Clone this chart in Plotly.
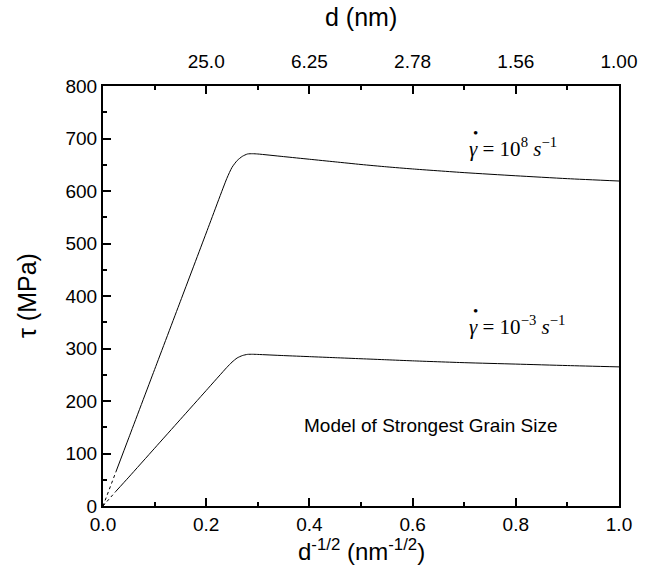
import plotly.graph_objects as go

# d^-1/2 (nm^-1/2)
d_inv = [0, 0.025, 0.05, 0.1, 0.15, 0.2, 0.24, 0.25, 0.26, 0.27, 0.28, 0.29, 0.3,
         0.35, 0.4, 0.45, 0.5, 0.55, 0.6, 0.7, 0.8, 0.9, 1.0]
tau_high = [0, 65, 130, 260, 390, 520, 624, 645, 658, 666, 670.5, 671, 670.5,
            665.5, 660.5, 655.5, 650.5, 646, 642, 635, 629, 623.5, 619]
tau_low = [0, 28, 55, 110, 165, 220, 264, 274, 282, 286.5, 288.8, 289, 288.7,
           286.5, 284.5, 282.5, 280.5, 278.5, 276.5, 273, 270.3, 267.5, 265]

top_tickvals = [0.2, 0.4, 0.6, 0.8, 1.0]
top_ticktext = ["25.0", "6.25", "2.78", "1.56", "1.00"]
n_dot = 2  # number of points drawn dotted near the origin

FONT = "Arial, Liberation Sans, sans-serif"
SERIF = "Times New Roman, Liberation Serif, serif"

fig = go.Figure()
for ys, ax in ((tau_high, "x"), (tau_low, "x2")):
    fig.add_trace(go.Scatter(x=d_inv[:n_dot], y=ys[:n_dot], mode="lines",
                             line=dict(color="black", width=1, dash="dot"),
                             xaxis=ax, showlegend=False, hoverinfo="skip"))
    fig.add_trace(go.Scatter(x=d_inv[n_dot - 1:], y=ys[n_dot - 1:], mode="lines",
                             line=dict(color="black", width=1, shape="spline", smoothing=0.6),
                             xaxis=ax, showlegend=False, hoverinfo="skip"))

axis_common = dict(range=[0, 1], showgrid=False, zeroline=False, showline=True,
                   linewidth=2, linecolor="black", ticks="inside", ticklen=8,
                   tickwidth=1.5, tickcolor="black",
                   tickfont=dict(family=FONT, size=19, color="black"))

fig.update_layout(
    width=658, height=573,
    margin=dict(l=103, r=39, t=86, b=67),
    paper_bgcolor="white", plot_bgcolor="white",
    xaxis=dict(**axis_common, tickvals=[0, 0.2, 0.4, 0.6, 0.8, 1.0], tickformat=".1f",
               minor=dict(dtick=0.1, tick0=0, ticks="inside", ticklen=4, tickwidth=1.5,
                          tickcolor="black", showgrid=False)),
    xaxis2=dict(**axis_common, overlaying="x", side="top", tickvals=top_tickvals,
                ticktext=top_ticktext, ticklabelstandoff=8,
                minor=dict(dtick=0.1, tick0=0, ticks="inside", ticklen=4, tickwidth=1.5,
                           tickcolor="black", showgrid=False)),
    yaxis=dict(range=[0, 800], showgrid=False, zeroline=False, showline=True,
               linewidth=2, linecolor="black", mirror=True, ticks="inside", ticklen=8,
               tickwidth=1.5, tickcolor="black", dtick=100,
               tickfont=dict(family=FONT, size=19, color="black"),
               minor=dict(dtick=50, ticks="inside", ticklen=4, tickwidth=1.5,
                          tickcolor="black", showgrid=False)),
)

annotations = [
    dict(text="d (nm)", xref="paper", yref="paper", x=0.5, y=1, yshift=69,
         xanchor="center", yanchor="middle", showarrow=False,
         font=dict(family=FONT, size=25, color="black")),
    dict(text="d<sup>-1/2</sup> (nm<sup>-1/2</sup>)", xref="paper", yref="paper",
         x=0.5, y=0, yshift=-44, xanchor="center", yanchor="middle", showarrow=False,
         font=dict(family=FONT, size=24, color="black")),
    dict(text="τ (MPa)", xref="paper", yref="paper", x=0, xshift=-76, y=0.5,
         textangle=-90, xanchor="center", yanchor="middle", showarrow=False,
         font=dict(family=FONT, size=25, color="black")),
    dict(text="Model of Strongest Grain Size", xref="x", yref="y", x=0.386, y=154,
         xanchor="left", yanchor="middle", showarrow=False,
         font=dict(family=FONT, size=19, color="black")),
]
for yv, expo in ((653, "8"), (314, "−3")):
    annotations.append(dict(
        text="<i>γ</i> = 10<sup>%s</sup> <i>s</i><sup>−1</sup>" % expo,
        xref="x", yref="y", x=0.705, y=yv, xanchor="left", yanchor="bottom",
        showarrow=False, font=dict(family=SERIF, size=21, color="black")))
    annotations.append(dict(text="•", xref="x", yref="y", x=0.7225, y=yv + 57,
                            xanchor="center", yanchor="middle", showarrow=False,
                            font=dict(family=SERIF, size=15, color="black")))
fig.update_layout(annotations=annotations)

fig.write_html("out.html")
